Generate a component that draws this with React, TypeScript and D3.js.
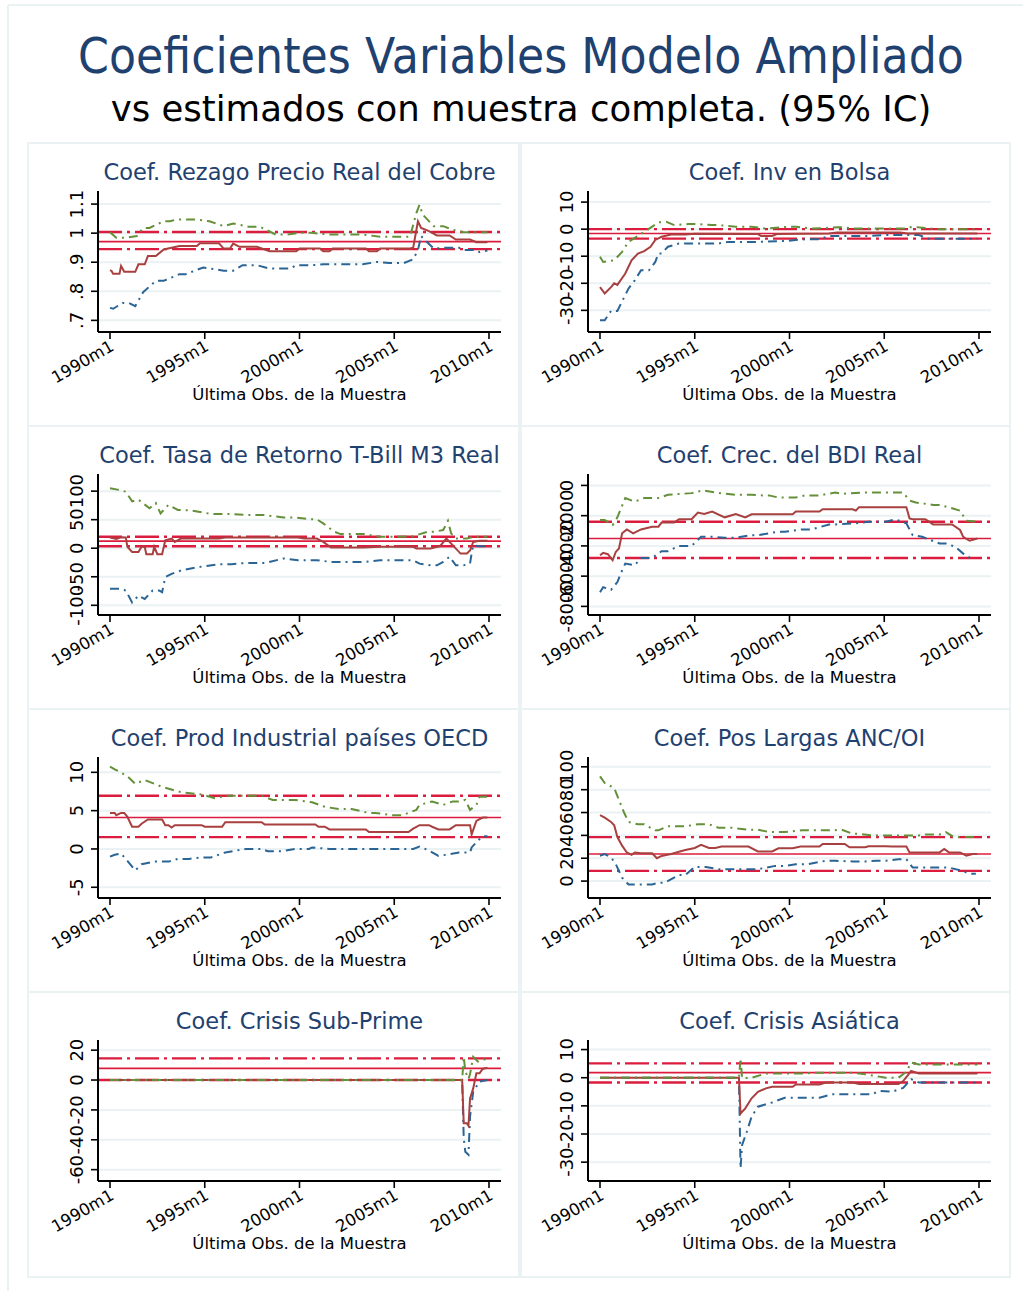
import * as d3 from "d3";

type Pt = [number, number];

// months since 1990m1
const monthTicks = [0, 60, 120, 180, 240];
const monthLabels = ["1990m1", "1995m1", "2000m1", "2005m1", "2010m1"];

// --- Coef. Rezago Precio Real del Cobre
const cobreEst: Pt[] = [[0,.873],[1,.87],[2,.86],[6,.86],[7,.887],[9,.867],[16,.867],[18,.893],[22,.893],[24,.921],[29,.921],[34,.944],[44,.956],[55,.956],[57,.965],[69,.965],[72,.947],[76,.947],[78,.964],[82,.953],[93,.953],[101,.938],[118,.938],[120,.947],[133,.947],[135,.938],[139,.938],[141,.947],[162,.947],[164,.938],[169,.938],[171,.947],[190,.947],[192,.95],[195,1.041],[197,1.018],[202,1.007],[207,.992],[215,.992],[219,.978],[228,.978],[232,.969],[239,.969]];
const cobreHi: Pt[] = [[0,1.003],[4,.984],[10,.984],[17,.99],[21,1.018],[25,1.018],[34,1.041],[38,1.041],[42,1.047],[55,1.047],[63,1.041],[72,1.024],[78,1.033],[88,1.022],[95,1.022],[105,.995],[112,.995],[120,1.001],[128,1.001],[139,.995],[160,.995],[171,.988],[190,.988],[194,1.069],[196,1.098],[198,1.064],[205,1.024],[211,1.024],[217,1.012],[224,1.003],[239,1.003]];
const cobreLo: Pt[] = [[0,.743],[2,.74],[8,.76],[12,.76],[16,.749],[21,.797],[29,.836],[34,.836],[44,.859],[48,.859],[59,.882],[72,.871],[78,.871],[84,.89],[93,.89],[101,.878],[114,.878],[118,.89],[128,.89],[135,.893],[160,.893],[169,.901],[177,.897],[186,.897],[192,.91],[195,.942],[197,.99],[200,.973],[205,.947],[213,.95],[221,.95],[224,.942],[232,.942],[234,.935],[239,.94]];
const cobreFull = [0.971, 1.004, 0.945];
const cobreTicks = [0.7, 0.8, 0.9, 1, 1.1];
const cobreTickLabels = [".7", ".8", ".9", "1", "1.1"];

// --- Coef. Inv en Bolsa
const bolsaEst: Pt[] = [[0,-21.4],[3,-23.8],[7,-21.4],[9,-20],[11,-20.6],[16,-16.4],[20,-11.5],[24,-9],[28,-8.1],[32,-6.5],[35,-4],[39,-2.8],[45,-2],[54,-2],[60,-1.7],[100,-1.8],[102,-2.5],[109,-2.5],[112,-1.8],[145,-1.6],[150,-1.2],[190,-1.2],[195,-1.6],[239,-1.6]];
const bolsaHi: Pt[] = [[0,-10.2],[2,-12.1],[9,-11.5],[14,-8.4],[18,-4.7],[28,-1],[37,2.5],[42,2.7],[47,1.5],[56,1.9],[60,1.9],[71,1.5],[75,1.5],[86,.9],[96,.9],[105,.2],[119,.9],[124,.9],[134,.2],[151,.7],[155,.7],[160,.2],[192,.2],[198,.9],[213,0],[239,0]];
const bolsaLo: Pt[] = [[0,-33.7],[3,-33.7],[7,-30.2],[11,-30.2],[18,-22],[22,-18.9],[26,-15.2],[31,-15.2],[35,-12.1],[37,-9],[39,-9],[43,-6.5],[50,-5.3],[75,-5.3],[81,-4.7],[100,-4.7],[113,-4.4],[117,-4.4],[130,-3.7],[139,-3.7],[145,-2.5],[170,-2.5],[181,-2.2],[202,-2.2],[208,-3.5],[239,-3.5]];
const bolsaFull = [-1.6, 0, -3.5];
const bolsaTicks = [-30, -20, -10, 0, 10];

// --- Coef. Tasa de Retorno T-Bill M3 Real
const tbillEst: Pt[] = [[0,18.8],[4,16],[7,19],[10,18.8],[11,2.4],[14,-6.5],[18,-6.5],[20,2.4],[22,2.4],[23,-10.6],[27,-10.6],[28,2.4],[30,-10.6],[33,-10.6],[35,14],[39,17],[41,11],[45,17],[69,17],[73,18.8],[119,18.8],[123,17],[131,17],[135,11],[140,1.2],[161,1.2],[171,2.4],[192,2.4],[194,-.6],[203,-.6],[209,3.5],[213,17],[217,5.3],[222,-9.4],[226,-9.4],[228,-4],[230,11],[234,12.9],[239,12.9]];
const tbillHi: Pt[] = [[0,105],[6,102],[10,99],[14,82],[18,85],[25,70],[29,79],[32,61],[37,76],[43,67],[52,66],[64,60],[77,60],[87,58],[98,58],[110,54],[117,54],[127,50.6],[131,50.6],[135,43.5],[142,29],[146,24.7],[161,24.7],[171,20],[182,20],[192,21],[201,28.8],[205,28.8],[211,31.8],[214,48],[216,26],[219,17],[226,17],[230,20],[239,20]];
const tbillLo: Pt[] = [[0,-71],[6,-71],[10,-74],[14,-95],[18,-83],[22,-89],[27,-74],[31,-74],[33,-77],[35,-50.6],[39,-45],[45,-39],[56,-33],[69,-28],[77,-28],[85,-26],[98,-26],[110,-18],[119,-21],[131,-21],[140,-24],[161,-24],[171,-21],[192,-21],[196,-27],[203,-30],[207,-30],[211,-24],[215,-15],[219,-30],[224,-30],[228,-27],[229,-9],[230,5],[234,3.5],[239,3.5]];
const tbillFull = [12.4, 20, 3.5];
const tbillTicks = [-100, -50, 0, 50, 100];

// --- Coef. Crec. del BDI Real
const bdiEst: Pt[] = [[0,-4620],[2,-4460],[5,-4550],[8,-4950],[10,-4400],[12,-4170],[14,-3170],[17,-2910],[21,-3170],[26,-2910],[33,-2730],[37,-2730],[39,-2460],[47,-2460],[50,-2240],[58,-2240],[62,-1800],[66,-1890],[71,-1730],[79,-2110],[86,-1890],[92,-2110],[96,-1910],[122,-1910],[124,-1730],[139,-1730],[141,-1580],[160,-1580],[162,-1670],[164,-1440],[194,-1440],[196,-2180],[198,-2240],[206,-2240],[211,-2580],[223,-2580],[228,-2950],[230,-3400],[234,-3660],[239,-3510]];
const bdiHi: Pt[] = [[0,-2290],[3,-2290],[8,-2620],[11,-2110],[16,-840],[22,-1070],[28,-840],[37,-840],[43,-620],[58,-510],[65,-330],[73,-470],[86,-620],[96,-620],[103,-660],[107,-660],[113,-800],[124,-800],[130,-660],[139,-660],[149,-470],[153,-560],[166,-470],[192,-470],[196,-1000],[200,-1130],[211,-1290],[215,-1290],[223,-1510],[228,-1670],[232,-2330],[239,-2400]];
const bdiLo: Pt[] = [[0,-7060],[2,-6730],[7,-6900],[11,-6390],[14,-5620],[16,-5170],[22,-5280],[26,-4800],[33,-4800],[39,-4350],[43,-4350],[50,-4000],[58,-4000],[64,-3400],[71,-3400],[79,-3460],[86,-3460],[96,-3290],[100,-3290],[113,-3060],[117,-3060],[128,-2910],[134,-2910],[145,-2580],[149,-2580],[162,-2510],[170,-2400],[181,-2400],[187,-2240],[194,-2510],[198,-3290],[204,-3400],[215,-3840],[219,-3840],[225,-4060],[230,-4510],[234,-4770]];
const bdiFull = [-3510, -2400, -4800];
const bdiTicks = [-8000, -6000, -4000, -2000, 0];

// --- Coef. Prod Industrial países OECD
const oecdEst: Pt[] = [[0,4.7],[3,4.7],[4,4.4],[7,4.7],[9,4.7],[11,4.2],[14,2.9],[18,2.9],[20,3.3],[24,3.85],[33,3.85],[35,3.1],[37,3.1],[39,2.8],[41,3.1],[58,3.1],[60,2.9],[71,2.9],[73,3.5],[96,3.5],[98,3.2],[130,3.2],[132,2.9],[136,2.9],[139,2.55],[162,2.55],[164,2.2],[189,2.2],[192,2.65],[196,3.1],[202,3.1],[204,2.9],[208,2.55],[215,2.55],[219,3.1],[228,3.1],[229,1.9],[232,3.67],[236,4.1],[239,4.1]];
const oecdHi: Pt[] = [[0,10.75],[3,10.4],[11,9.5],[16,8.5],[22,9],[33,8.1],[45,7.4],[58,7.1],[67,6.6],[73,6.95],[96,6.95],[103,6.4],[117,6.4],[128,6.1],[136,5.5],[145,5.2],[153,5.2],[164,4.7],[168,4.7],[179,4.4],[185,4.4],[194,5.1],[196,5.75],[204,6.2],[211,5.75],[217,6.2],[221,6.2],[225,6.4],[228,5.1],[232,5.75],[234,6.8],[239,6.8]];
const oecdLo: Pt[] = [[0,-1],[3,-.75],[7,-.6],[11,-1.55],[16,-2.8],[20,-2],[28,-1.65],[37,-1.65],[43,-1.3],[50,-1.3],[58,-1.1],[64,-1.1],[73,-.45],[86,0],[96,0],[100,-.3],[109,-.3],[117,0],[126,0],[128,.2],[139,0],[192,0],[196,.3],[202,-.2],[208,-.9],[215,-.7],[221,-.45],[228,-.45],[229,.2],[233,1.1],[236,1.65],[239,1.65]];
const oecdFull = [4.1, 6.95, 1.55];
const oecdTicks = [-5, 0, 5, 10];

// --- Coef. Pos Largas ANC/OI
const ancEst: Pt[] = [[0,57.7],[3,55.6],[7,51.8],[9,48.8],[11,38.5],[14,31],[17,25],[20,23],[22,25],[26,24.3],[33,24.3],[36,20],[39,22],[45,23.7],[54,27.2],[60,29],[64,31.7],[69,29],[73,29],[77,30.2],[94,30.2],[100,26],[109,26],[113,28.7],[122,28.7],[127,30.2],[139,30.2],[141,32.5],[155,32.5],[158,29.6],[168,29.6],[170,30.5],[181,30.5],[185,30.2],[194,30.2],[196,25.1],[215,25.1],[218,28.1],[221,25.1],[228,25.1],[232,22.2],[236,23.7],[239,23.7]];
const ancHi: Pt[] = [[0,91.7],[3,85.8],[9,81.4],[12,71],[15,60.7],[18,51.8],[24,49.7],[28,49.7],[35,44.4],[37,44.4],[43,48],[54,48],[62,49.7],[69,49.7],[75,46.7],[83,46.7],[94,45],[100,45],[107,42.9],[117,42.9],[128,44.4],[147,44.4],[153,45],[160,41.4],[164,41.4],[172,40],[202,40],[206,40.8],[215,40.8],[219,42.9],[224,38.5],[239,38.5]];
const ancLo: Pt[] = [[0,22.2],[3,23.7],[7,20.7],[10,14.8],[14,3],[18,-3],[33,-3],[37,-1.5],[41,-1.5],[50,5.3],[54,5.3],[60,12.4],[67,12.4],[75,10.4],[100,10.4],[111,13.3],[117,13.3],[124,14.8],[132,14.8],[143,17.8],[149,17.8],[160,17.2],[168,17.2],[175,17.8],[181,17.8],[189,19.2],[194,19.2],[198,11.8],[221,11.8],[228,9.5],[234,6.5],[238,6.5]];
const ancFull = [23.7, 38.5, 8.9];
const ancTicks = [0, 20, 40, 60, 80, 100];

// --- Coef. Crisis Sub-Prime
const subEst: Pt[] = [[0,0],[223,0],[224,-29],[226,-29],[227,-30.6],[228,-12.3],[230,-5.6],[232,4.5],[234,4.5],[236,7.4],[239,8.3]];
const subHi: Pt[] = [[0,0],[223,0],[224,15.6],[225,6],[227,.7],[228,4],[230,15.6],[233,12.3],[236,13.4],[239,14.5]];
const subLo: Pt[] = [[0,0],[223,0],[224,-39],[225,-48],[227,-50],[228,-24.5],[230,-7.8],[234,-1],[239,0]];
const subFull = [7.8, 14.5, 0];
const subTicks = [-60, -40, -20, 0, 20];

// --- Coef. Crisis Asiática
const asiaEst: Pt[] = [[0,0],[88,0],[89,-12.7],[92,-10.9],[96,-7.3],[100,-5],[105,-3.8],[109,-3.2],[122,-3.2],[124,-2.4],[139,-2.4],[143,-1.7],[160,-1.7],[164,-2.2],[189,-2.2],[192,-1.2],[195,.9],[197,2.4],[202,1.5],[239,1.5]];
const asiaHi: Pt[] = [[0,0],[88,0],[89,6.9],[90,-.2],[96,0],[105,1.5],[128,1.5],[139,1.8],[160,1.8],[168,1.2],[181,0],[189,0],[194,2.1],[197,5.4],[202,4.7],[239,4.7]];
const asiaLo: Pt[] = [[0,0],[88,0],[89,-32.2],[90,-23.9],[93,-19.2],[96,-13.8],[100,-10.3],[109,-8.8],[117,-7.1],[139,-7.1],[147,-5.9],[172,-5.9],[177,-4.7],[185,-5],[192,-3.6],[197,-.5],[202,-1.7],[239,-1.7]];
const asiaFull = [1.8, 5.1, -1.7];
const asiaTicks = [-30, -20, -10, 0, 10];

const panels = [
  { title: "Coef. Rezago Precio Real del Cobre", est: cobreEst, hi: cobreHi, lo: cobreLo, full: cobreFull, ticks: cobreTicks, labels: cobreTickLabels, domain: [0.66, 1.145] },
  { title: "Coef. Inv en Bolsa", est: bolsaEst, hi: bolsaHi, lo: bolsaLo, full: bolsaFull, ticks: bolsaTicks, domain: [-38, 14.1] },
  { title: "Coef. Tasa de Retorno T-Bill M3 Real", est: tbillEst, hi: tbillHi, lo: tbillLo, full: tbillFull, ticks: tbillTicks, domain: [-117, 130] },
  { title: "Coef. Crec. del BDI Real", est: bdiEst, hi: bdiHi, lo: bdiLo, full: bdiFull, ticks: bdiTicks, domain: [-8570, 755] },
  { title: "Coef. Prod Industrial países OECD", est: oecdEst, hi: oecdHi, lo: oecdLo, full: oecdFull, ticks: oecdTicks, domain: [-6.4, 12.0] },
  { title: "Coef. Pos Largas ANC/OI", est: ancEst, hi: ancHi, lo: ancLo, full: ancFull, ticks: ancTicks, domain: [-14.8, 108.6] },
  { title: "Coef. Crisis Sub-Prime", est: subEst, hi: subHi, lo: subLo, full: subFull, ticks: subTicks, domain: [-67.6, 26.8] },
  { title: "Coef. Crisis Asiática", est: asiaEst, hi: asiaHi, lo: asiaLo, full: asiaFull, ticks: asiaTicks, domain: [-36.7, 13.4] },
];

const W = 1023;
const H = 1291;
const FONT = "DejaVu Sans";
const NAVY = "#1f416f";
const GRID = "#eaf2f3";
const CRIMSON = "#dc1c3e";
const EST = "#a8403f";
const HI = "#65903a";
const LO = "#2a6595";

const colX = [28, 521];
const colW = [491, 489];
const rowY = [143, 426, 709, 992];
const plotL = [98, 588];
const plotR = [501, 991];

function Panel({ p, col, row }: { p: any; col: number; row: number }) {
  const top = rowY[row];
  const left = plotL[col];
  const right = plotR[col];
  const pTop = top + 48;
  const pBot = top + 189;
  const cx = (left + right) / 2;

  const x = d3.scaleLinear().domain([0, 240]).range([left + 12, right - 12]);
  const y = d3.scaleLinear().domain(p.domain).range([pBot, pTop]);
  const line = d3.line<Pt>().x((d) => x(d[0])).y((d) => y(d[1]));

  const labels: string[] = p.labels || p.ticks.map((t: number) => String(t));

  return (
    <g>
      <rect x={colX[col]} y={top} width={colW[col]} height={row === 3 ? 285 : 283} fill="white" stroke={GRID} strokeWidth={2} />
      <text x={cx} y={top + 37} textAnchor="middle" fontSize={22.5} fill={NAVY} fontFamily={FONT}>
        {p.title}
      </text>
      {p.ticks.map((t: number, i: number) => (
        <g key={i}>
          <line x1={left} x2={right} y1={y(t)} y2={y(t)} stroke={GRID} strokeWidth={2} />
          <line x1={left - 7} x2={left} y1={y(t)} y2={y(t)} stroke="black" strokeWidth={1.6} />
          <text
            transform={`translate(${left - 15.5},${y(t)}) rotate(-90)`}
            textAnchor="middle"
            fontSize={18}
            fontFamily={FONT}
            fill="black"
          >
            {labels[i]}
          </text>
        </g>
      ))}
      {/* full sample estimate and 95% band */}
      <line x1={left} x2={right} y1={y(p.full[0])} y2={y(p.full[0])} stroke={CRIMSON} strokeWidth={1.6} />
      <line x1={left} x2={right} y1={y(p.full[1])} y2={y(p.full[1])} stroke={CRIMSON} strokeWidth={2.4} strokeDasharray="24 5 3 5" />
      <line x1={left} x2={right} y1={y(p.full[2])} y2={y(p.full[2])} stroke={CRIMSON} strokeWidth={2.4} strokeDasharray="24 5 3 5" />
      {/* rolling estimates */}
      <path d={line(p.lo) || ""} fill="none" stroke={LO} strokeWidth={2} strokeDasharray="9 5 2 5" />
      <path d={line(p.est) || ""} fill="none" stroke={EST} strokeWidth={2} />
      <path d={line(p.hi) || ""} fill="none" stroke={HI} strokeWidth={2} strokeDasharray="9 5 2 5" />
      {/* axes */}
      <line x1={left} x2={left} y1={pTop} y2={pBot} stroke="black" strokeWidth={2} />
      <line x1={left} x2={right} y1={pBot} y2={pBot} stroke="black" strokeWidth={2} />
      {monthTicks.map((m, i) => (
        <g key={m}>
          <line x1={x(m)} x2={x(m)} y1={pBot} y2={pBot + 7} stroke="black" strokeWidth={1.6} />
          <text
            transform={`translate(${x(m) - 1},${pBot + 7}) rotate(-30)`}
            textAnchor="end"
            dy="0.74em"
            fontSize={16.5}
            fontFamily={FONT}
            fill="black"
          >
            {monthLabels[i]}
          </text>
        </g>
      ))}
      <text x={cx} y={top + 257} textAnchor="middle" fontSize={16.5} fontFamily={FONT} fill="black">
        Última Obs. de la Muestra
      </text>
    </g>
  );
}

export default function App() {
  return (
    <svg width={W} height={H} style={{ position: "absolute", left: 0, top: 0, background: "white" }}>
      <rect x={0} y={0} width={W} height={H} fill="white" />
      <line x1={8} x2={W} y1={5} y2={5} stroke={GRID} strokeWidth={2} />
      <line x1={8} x2={8} y1={5} y2={H} stroke={GRID} strokeWidth={2} />
      <text transform="translate(521,73) scale(1,1.12)" textAnchor="middle" fontSize={44.3} fill={NAVY} fontFamily={FONT}>
        Coeficientes Variables Modelo Ampliado
      </text>
      <text x={521} y={121} textAnchor="middle" fontSize={35.5} fill="black" fontFamily={FONT}>
        vs estimados con muestra completa. (95% IC)
      </text>
      {panels.map((p, i) => (
        <Panel key={i} p={p} col={i % 2} row={Math.floor(i / 2)} />
      ))}
    </svg>
  );
}
